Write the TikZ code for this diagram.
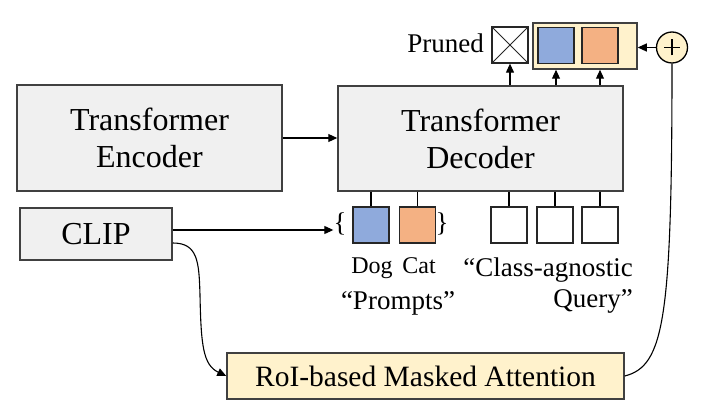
\documentclass[tikz,border=0pt]{standalone}
\usepackage{fontspec}
\setmainfont{Liberation Serif}
\usetikzlibrary{arrows.meta}
\definecolor{boxgray}{HTML}{F0F0F0}
\definecolor{edgegray}{HTML}{404040}
\definecolor{paleyellow}{HTML}{FFF2CC}
\definecolor{qblue}{HTML}{8FAADC}
\definecolor{qorange}{HTML}{F4B183}
\tikzset{
  bigbox/.style={draw=edgegray, line width=1.5pt, fill=boxgray, inner sep=0pt, align=center, font=\fontsize{32}{37}\selectfont},
  roibox/.style={draw=edgegray, line width=1.5pt, fill=paleyellow, inner sep=0pt, font=\fontsize{29.5}{35}\selectfont},
  sq/.style={draw=black!85, line width=1.3pt, minimum width=36pt, minimum height=36pt, inner sep=0pt},
  lbl/.style={inner sep=0pt, anchor=base, font=\fontsize{27}{32}\selectfont},
  small/.style={inner sep=0pt, anchor=base, font=\fontsize{24}{28}\selectfont},
  conn/.style={draw=black, line width=1.1pt},
  arr/.style={conn, -{Triangle[length=9pt,width=8pt]}},
}
\begin{document}
\begin{tikzpicture}[x=1pt,y=-1pt]
\useasboundingbox (0,0) rectangle (702,414);
% main boxes
\node[bigbox, minimum width=265pt, minimum height=106pt] (enc) at (149.5,138) {Transformer\\Encoder};
\node[bigbox, minimum width=285pt, minimum height=105pt] (dec) at (480.5,138.5) {Transformer\\Decoder};
\node[bigbox, minimum width=152pt, minimum height=52pt] (clip) at (96,234) {CLIP};
\node[roibox, minimum width=397pt, minimum height=46pt] (roi) at (425.5,376) {RoI-based Masked Attention};
% bottom query squares
\node[sq, fill=qblue] (dog) at (371,225) {};
\node[sq, fill=qorange] (cat) at (417.5,225) {};
\node[sq, fill=white] (q1) at (509,225) {};
\node[sq, fill=white] (q2) at (555,225) {};
\node[sq, fill=white] (q3) at (600,225) {};
\node[inner sep=0pt, font=\fontsize{27}{32}\selectfont] (lb) at (340,224) {\{};
\node[inner sep=0pt, font=\fontsize{27}{32}\selectfont] (rb) at (442,224) {\}};
% labels
\node[small] (dogt) at (372,274) {Dog};
\node[small] (catt) at (419,274) {Cat};
\node[lbl] (prompts) at (398,309) {``Prompts''};
\node[lbl, anchor=base east] (cag) at (633,277) {``Class-agnostic};
\node[lbl, anchor=base east] (query) at (633,308) {Query''};
% top outputs
\node[draw=edgegray, line width=1.5pt, fill=paleyellow, minimum width=104pt, minimum height=46pt, inner sep=0pt] (cont) at (585,46) {};
\node[sq, fill=qblue] (tblue) at (556,45.5) {};
\node[sq, fill=qorange] (torange) at (600,45.5) {};
\node[sq, fill=white, path picture={\draw[line width=1pt] (path picture bounding box.south west) -- (path picture bounding box.north east) (path picture bounding box.north west) -- (path picture bounding box.south east);}] (pr) at (510,45) {};
\node[lbl, anchor=base east] (prt) at (484,53) {Pruned};
\node[circle, draw=black, line width=1.3pt, fill=paleyellow, minimum size=31pt, inner sep=0pt] (plus) at (672,47.5) {};
\draw[line width=1.5pt] ([xshift=-8pt]plus.center) -- ([xshift=8pt]plus.center) ([yshift=-8pt]plus.center) -- ([yshift=8pt]plus.center);
% connectors
\draw[arr] (enc.east) -- (enc.east -| dec.west);
\draw[arr] ([yshift=4pt]clip.east) -- ([yshift=4pt]clip.east -| lb.west);
\draw[arr] ([yshift=-9pt]clip.east) .. controls (198,243) and (199,262) .. (200,295) .. controls (201,345) and (203,365) .. (roi.west);
\foreach \s in {dog,cat,q1,q2,q3}{
  \draw[conn] (dec.south -| \s.north) -- (\s.north);
}
\draw[arr] (dec.north -| pr.south) -- (pr.south);
\draw[arr] (dec.north -| tblue.south) -- (cont.south -| tblue.south);
\draw[arr] (dec.north -| torange.south) -- (cont.south -| torange.south);
\draw[arr] (plus.west) -- (plus.west -| cont.east);
\draw[conn] (plus.south) .. controls (672,320) and (664,366) .. (roi.east);
\end{tikzpicture}
\end{document}
